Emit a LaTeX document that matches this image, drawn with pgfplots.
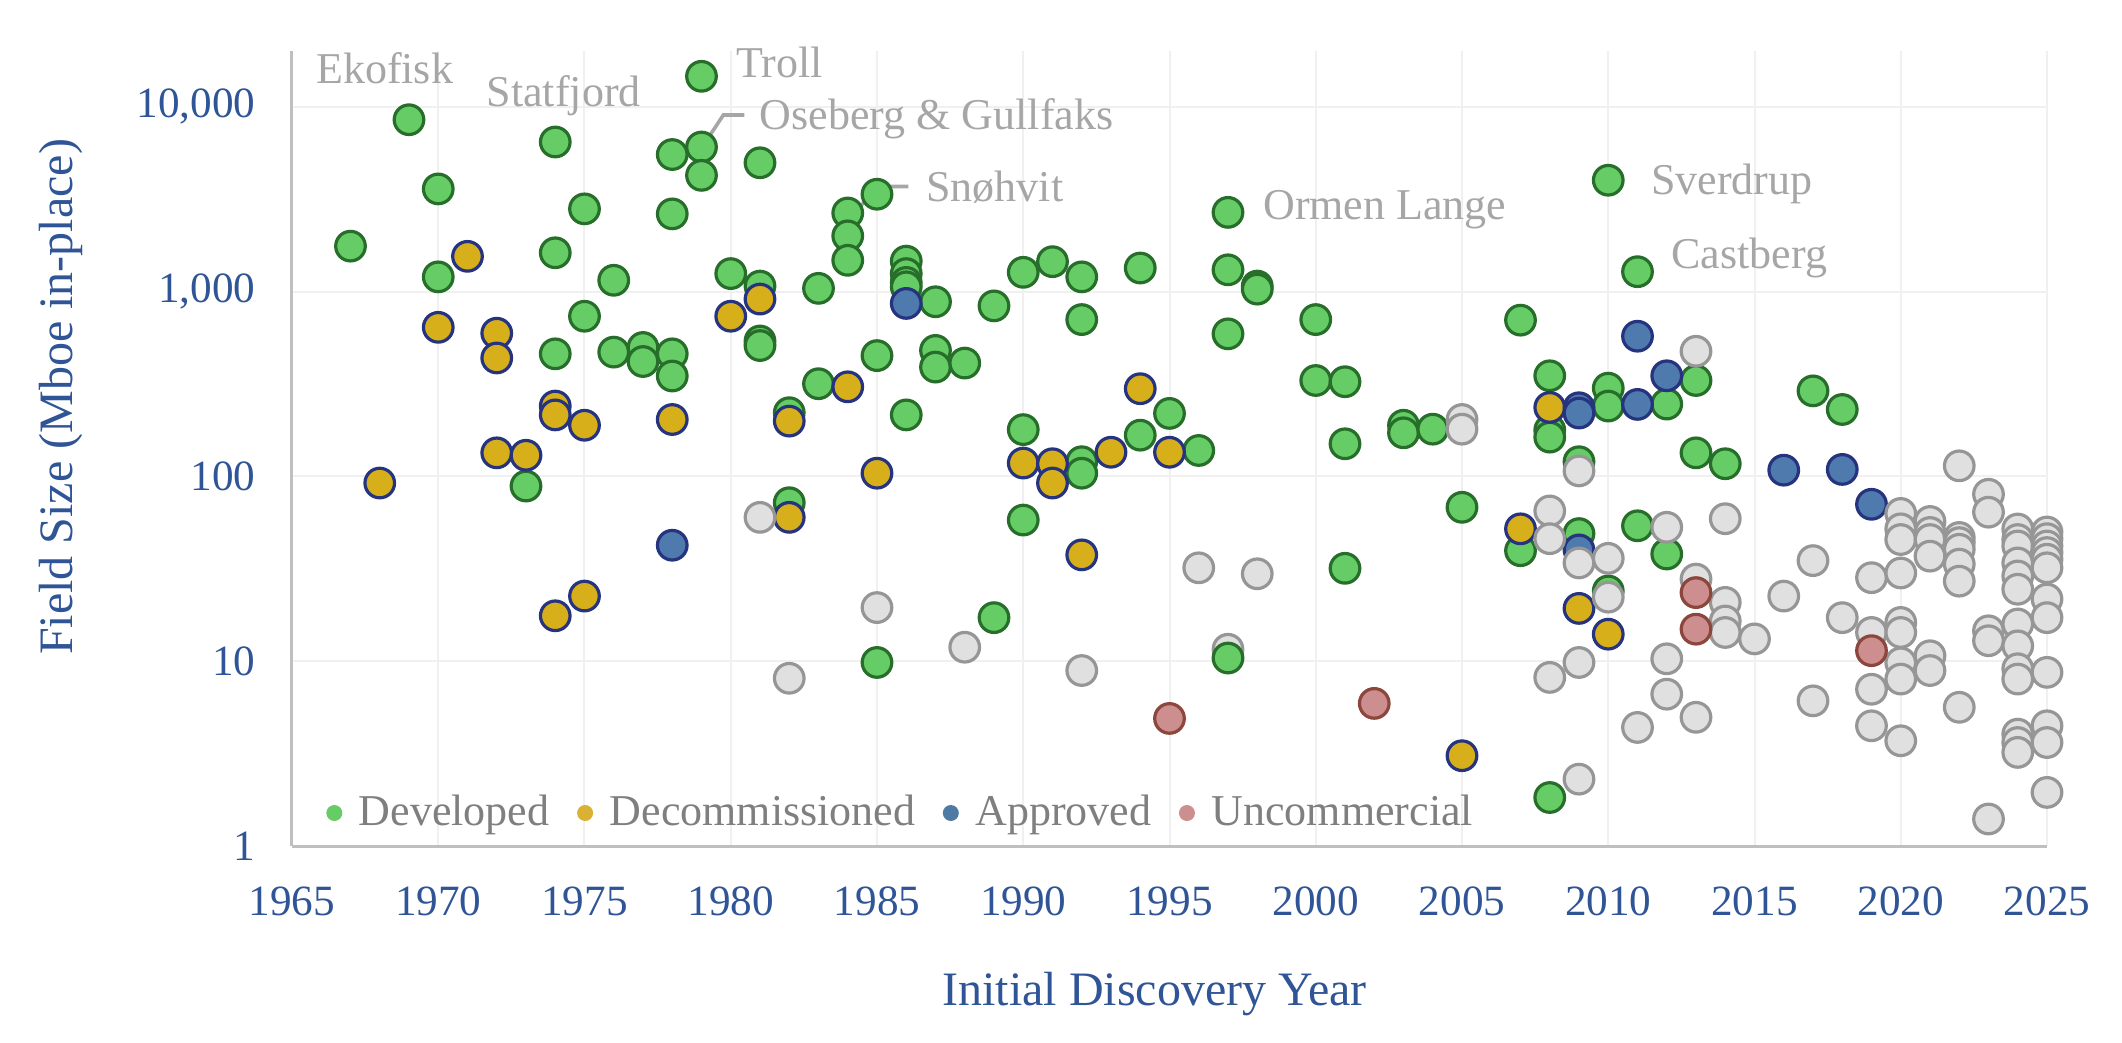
\documentclass[border=0pt]{standalone}
\usepackage{fontspec}
\setmainfont{Liberation Serif}
\usepackage{pgfplots}
\pgfplotsset{compat=1.18}
\definecolor{tickblue}{RGB}{47,85,151}
\definecolor{gridgrey}{RGB}{240,240,240}
\definecolor{axisgrey}{RGB}{191,191,191}
\definecolor{annogrey}{RGB}{166,166,166}
\definecolor{legendgrey}{RGB}{127,127,127}
\definecolor{devfill}{RGB}{102,204,102}
\definecolor{devedge}{RGB}{38,110,42}
\definecolor{decfill}{RGB}{214,175,26}
\definecolor{navyedge}{RGB}{38,52,128}
\definecolor{appfill}{RGB}{79,122,173}
\definecolor{othfill}{RGB}{224,224,224}
\definecolor{othedge}{RGB}{150,150,150}
\definecolor{uncfill}{RGB}{204,142,142}
\definecolor{uncedge}{RGB}{140,70,60}
\definecolor{legdec}{RGB}{217,178,51}
\definecolor{legapp}{RGB}{79,122,163}
\begin{document}
\begin{tikzpicture}
\useasboundingbox (-73pt,-49pt) rectangle (457.5pt,211.5pt);
\begin{axis}[
  scale only axis, width=438.75pt, height=198.75pt,
  xmin=1965, xmax=2025, ymode=log, ymin=1, ymax=20000,
  clip=false,
  axis lines*=left,
  axis line style={draw=axisgrey, line width=0.75pt},
  xtick={1965,1970,1975,1980,1985,1990,1995,2000,2005,2010,2015,2020,2025},
  xticklabels={1965,1970,1975,1980,1985,1990,1995,2000,2005,2010,2015,2020,2025},
  ytick={1,10,100,1000,10000},
  yticklabels={1,10,100,{1,000},{10,000}},
  minor ytick={},
  tick style={draw=none},
  major tick length=0pt, minor tick length=0pt,
  xmajorgrids, ymajorgrids,
  grid style={draw=gridgrey, line width=0.5pt},
  xticklabel style={font=\fontsize{10.8}{12}\selectfont, text=tickblue, yshift=-6.75pt},
  yticklabel style={font=\fontsize{10.8}{12}\selectfont, text=tickblue, xshift=-5.6pt},
  xlabel={Initial Discovery Year},
  ylabel={Field Size (Mboe in-place)},
  xlabel style={font=\fontsize{12}{14}\selectfont, text=tickblue, at={(axis description cs:0.4916,-0.186)}, anchor=center},
  ylabel style={font=\fontsize{12}{14}\selectfont, text=tickblue, at={(axis description cs:-0.1318,0.565)}, anchor=center},
  every axis plot/.append style={only marks, mark=*, mark size=3.7pt, line width=0.8pt},
  legend columns=4,
  legend cell align=left,
  legend image code/.code={\fill[#1, draw=none] (0pt,0pt) circle (2pt);},
  legend style={at={(axis description cs:0.0191,0.0415)}, anchor=west, draw=none, fill=none,
    inner sep=0pt, font=\fontsize{11}{13}\selectfont, text=legendgrey,
    nodes={inner xsep=0pt, inner ysep=1pt},
    /tikz/every odd column/.append style={column sep=4.15pt},
    /tikz/every even column/.append style={column sep=6.9pt}},
]
% Other, drawn beneath
\addplot[forget plot, draw=othedge, fill=othfill] coordinates {
(1997,11.6)
};
% Developed
\addplot[forget plot, draw=devedge, fill=devfill] coordinates {
(1967,1760) (1969,8500) (1970,3590) (1970,1200) (1973,88.6)
(1974,6440) (1974,1620) (1974,460) (1975,2800) (1975,735)
(1976,1150) (1976,470) (1977,498) (1977,418)
(1978,5510) (1978,2630) (1978,460) (1978,349)
(1979,14600) (1979,6050) (1979,4250) (1980,1250)
(1981,4970) (1981,1070) (1981,540) (1981,510)
(1982,221) (1982,72) (1983,1040) (1983,317)
(1984,2660) (1984,2000) (1984,1475)
(1985,3360) (1985,450) (1985,9.84)
(1986,1460) (1986,1250) (1986,1120) (1986,1060) (1986,215)
(1987,880) (1987,480) (1987,390) (1988,410)
(1989,836) (1989,17.2) (1990,1270) (1990,179) (1990,58)
(1991,1450) (1992,1200) (1992,705) (1992,120) (1992,104)
(1994,1340) (1994,167) (1995,219) (1996,138)
(1997,2680) (1997,1310) (1997,590) (1997,10.4)
(1998,1070) (1998,1030) (2000,705) (2000,330)
(2001,325) (2001,150) (2001,31.8) (2003,189) (2003,172) (2004,180)
(2005,68) (2007,700) (2007,39.6)
(2008,350) (2008,178) (2008,163) (2008,1.83)
(2009,120) (2009,49) (2010,4000) (2010,300) (2010,240) (2010,24)
(2011,1280) (2011,54) (2012,246) (2012,38) (2013,330) (2013,134)
(2014,117) (2017,290) (2018,230)
};
% Decommissioned
\addplot[forget plot, draw=navyedge, fill=decfill] coordinates {
(1968,92) (1970,640) (1971,1550) (1972,595) (1972,437) (1972,134)
(1973,130) (1974,240) (1974,215) (1974,17.6) (1975,189) (1975,22.5)
(1978,203) (1980,735) (1981,910) (1982,199) (1982,60) (1984,305)
(1985,104) (1990,118) (1991,117) (1991,92) (1992,37.6) (1993,135)
(1994,298) (1995,135) (2005,3.08) (2007,52) (2008,236) (2009,19.3) (2010,14.0)
};
% Approved
\addplot[forget plot, draw=navyedge, fill=appfill] coordinates {
(1978,42.4) (1986,862) (2009,235) (2009,220) (2009,40)
(2011,573) (2011,245) (2012,350) (2016,108) (2018,109) (2019,70.6)
};
% Other (not in legend)
\addplot[forget plot, draw=othedge, fill=othfill] coordinates {
(1981,60) (1982,8.08) (1985,19.5) (1988,11.9) (1992,8.9) (1996,32)
(1998,29.7) (2005,203) (2005,180)
(2008,65) (2008,46) (2008,8.17)
(2009,107) (2009,34) (2009,9.84) (2009,2.3)
(2010,36) (2010,22.2) (2011,4.38)
(2012,53) (2012,10.3) (2012,6.63)
(2013,475) (2013,27.8) (2013,4.97)
(2014,59) (2014,20.8) (2014,16.5) (2014,14.3)
(2015,13.2) (2016,22.5) (2017,35) (2017,6.1) (2018,17.2)
(2019,28.3) (2019,14.3) (2019,7.05) (2019,4.47)
(2020,63) (2020,52) (2020,45.5) (2020,30) (2020,16.2) (2020,14.3) (2020,9.8) (2020,8.0) (2020,3.71)
(2021,57) (2021,49.7) (2021,45.5) (2021,37) (2021,10.7) (2021,8.9)
(2022,114) (2022,46.7) (2022,43.8) (2022,40.3) (2022,33.5) (2022,27.1) (2022,5.63)
(2023,80) (2023,64) (2023,14.6) (2023,12.9) (2023,1.40)
(2024,51.9) (2024,45.5) (2024,42) (2024,34) (2024,28.9) (2024,24.5) (2024,15.9) (2024,12.1) (2024,9.1) (2024,8.0) (2024,4.03) (2024,3.63) (2024,3.21)
(2025,50) (2025,46) (2025,42) (2025,38.7) (2025,35.6) (2025,32) (2025,21.7) (2025,17.2) (2025,8.7) (2025,4.47) (2025,3.63) (2025,1.95)
};
% Uncommercial
\addplot[forget plot, draw=uncedge, fill=uncfill] coordinates {
(1995,4.9) (2002,5.91) (2013,23.5) (2013,14.9) (2019,11.4)
};
\addlegendimage{fill=devfill}
\addlegendentry{Developed}
\addlegendimage{fill=legdec}
\addlegendentry{Decommissioned}
\addlegendimage{fill=legapp}
\addlegendentry{Approved}
\addlegendimage{fill=uncfill}
\addlegendentry{Uncommercial}
% annotations
\begin{scope}[every node/.style={anchor=base west, inner sep=0pt, font=\fontsize{11}{13}\selectfont, text=annogrey}]
\node at (axis cs:1965.8,13270) {Ekofisk};
\node at (axis cs:1971.63,10080) {Statfjord};
\node at (axis cs:1980.16,14420) {Troll};
\node at (axis cs:1980.97,7480) {Oseberg \& Gullfaks};
\node at (axis cs:1986.66,3060) {Snøhvit};
\node at (axis cs:1998.18,2460) {Ormen Lange};
\node at (axis cs:2011.44,3330) {Sverdrup};
\node at (axis cs:2012.14,1337) {Castberg};
\end{scope}
\draw[annogrey, line width=0.9pt] (axis cs:1979.03,6080) -- (axis cs:1979.75,9020) -- (axis cs:1980.47,9020);
\draw[annogrey, line width=0.9pt] (axis cs:1983.98,2600) -- (axis cs:1985.36,3700) -- (axis cs:1986.07,3700);
\end{axis}
\end{tikzpicture}
\end{document}
